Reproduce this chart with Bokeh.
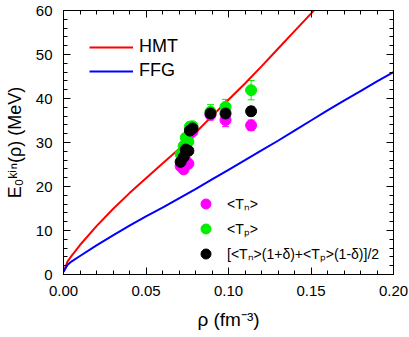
from bokeh.plotting import figure
from bokeh.models import (Range1d, FixedTicker, LinearAxis, Legend, LegendItem,
                          Whisker, TeeHead, ColumnDataSource, NumeralTickFormatter)
from bokeh.embed import file_html
from bokeh.resources import INLINE

# ---------------- data ----------------
rho_hmt = [0.0, 0.0025, 0.005, 0.01, 0.02, 0.03, 0.04, 0.05, 0.06, 0.07, 0.08,
           0.09, 0.10, 0.11, 0.12, 0.13, 0.14, 0.15, 0.16]
e_hmt = [0.6, 3.0, 4.3, 6.7, 11.0, 14.9, 18.5, 21.9, 25.2, 28.5, 32.2,
         36.0, 39.7, 43.4, 47.3, 51.3, 55.3, 59.3, 63.4]

rho_ffg = [0.0, 0.0025, 0.005, 0.01, 0.02, 0.03, 0.04, 0.05, 0.06, 0.07, 0.08,
           0.09, 0.10, 0.11, 0.12, 0.13, 0.14, 0.15, 0.16, 0.17, 0.18, 0.19, 0.20]
e_ffg = [0.6, 2.2, 3.0, 4.2, 6.6, 8.9, 11.1, 13.2, 15.2, 17.3, 19.4,
         21.6, 23.8, 26.0, 28.2, 30.4, 32.7, 35.0, 37.3, 39.5, 41.7, 43.9, 46.0]

rho_pts = [0.0710, 0.0728, 0.0741, 0.0757, 0.0766, 0.0782, 0.0891, 0.0982, 0.1137]
tn = [24.6, 23.9, 25.8, 25.2, 32.0, 32.5, 36.3, 35.1, 33.9]
tn_err = [0.8, 0.8, 0.8, 0.8, 0.8, 0.8, 1.2, 1.5, 1.2]
tp = [27.3, 29.2, 31.1, 30.2, 33.6, 33.7, 37.0, 38.1, 41.9]
tp_err = [0.9, 0.9, 0.9, 0.9, 1.0, 1.0, 1.6, 1.7, 2.2]
tavg = [25.6, 26.7, 28.4, 28.1, 32.7, 33.2, 36.6, 36.6, 37.1]
tavg_err = [0.6, 0.6, 0.6, 0.6, 0.7, 0.7, 1.0, 1.0, 1.0]

x_major = [0.0, 0.05, 0.10, 0.15, 0.20]
x_minor = [0.0, 0.01, 0.02, 0.03, 0.04, 0.05, 0.06, 0.07, 0.08, 0.09, 0.10,
           0.11, 0.12, 0.13, 0.14, 0.15, 0.16, 0.17, 0.18, 0.19, 0.20]
y_major = [0, 10, 20, 30, 40, 50, 60]
y_minor = [0, 2, 4, 6, 8, 10, 12, 14, 16, 18, 20, 22, 24, 26, 28, 30, 32, 34, 36,
           38, 40, 42, 44, 46, 48, 50, 52, 54, 56, 58, 60]

x_title = "\u03c1 (fm\u207b\u00b3)"
y_title = "E\u2080\u1d4f\u2071\u207f(\u03c1) (MeV)"
labels_n = "<T\u2099>"
labels_p = "<T\u209a>"
labels_avg = "[<T\u2099>(1+\u03b4)+<T\u209a>(1-\u03b4)]/2"

# ---------------- layout ----------------
W, H = 409, 337
FONT = "Liberation Sans"

p = figure(width=W, height=H, x_range=Range1d(0.0, 0.2), y_range=Range1d(0.0, 60.0),
           output_backend="svg", toolbar_location=None,
           x_axis_location=None, y_axis_location=None,
           min_border_left=63, min_border_right=16, min_border_top=10, min_border_bottom=63)
p.grid.visible = False
p.outline_line_color = "black"
p.outline_line_width = 1
p.background_fill_color = "white"
p.border_fill_color = "white"


def make_axis(major, minor, fmt, show, title_size="19px"):
    ax = LinearAxis(ticker=FixedTicker(ticks=major, minor_ticks=minor))
    ax.formatter = NumeralTickFormatter(format=fmt)
    ax.major_tick_in = 7
    ax.major_tick_out = 0
    ax.minor_tick_in = 4
    ax.minor_tick_out = 0
    ax.axis_line_color = "black"
    ax.major_tick_line_color = "black"
    ax.minor_tick_line_color = "black"
    if show:
        ax.major_label_text_font = FONT
        ax.major_label_text_font_size = "15px"
        ax.major_label_text_color = "black"
        ax.axis_label_text_font = FONT
        ax.axis_label_text_font_size = title_size
        ax.axis_label_text_font_style = "normal"
        ax.axis_label_text_color = "black"
    else:
        ax.major_label_text_font_size = "1px"
        ax.major_label_text_color = None
        ax.major_label_text_alpha = 0
        ax.major_label_standoff = 0
    return ax


ax_b = make_axis(x_major, x_minor, "0.00", True, "19px")
ax_b.major_label_standoff = 11
ax_b.axis_label = x_title
ax_b.axis_label_standoff = 10
ax_l = make_axis(y_major, y_minor, "0", True, "18px")
ax_l.major_label_standoff = 11
ax_l.axis_label = y_title
ax_l.axis_label_standoff = 8
p.add_layout(ax_b, "below")
p.add_layout(ax_l, "left")
p.add_layout(make_axis(x_major, x_minor, "0.00", False), "above")
p.add_layout(make_axis(y_major, y_minor, "0", False), "right")

# ---------------- curves ----------------
r_hmt = p.line(rho_hmt, e_hmt, line_color="#ff0000", line_width=2)
r_ffg = p.line(rho_ffg, e_ffg, line_color="#0000ff", line_width=2)

# ---------------- points with error bars ----------------
series = [(tn, tn_err, "#ff00ff"), (tp, tp_err, "#00ee00"), (tavg, tavg_err, "black")]
for vals, errs, col in series:
    src = ColumnDataSource(dict(x=rho_pts,
                                lo=[v - e for v, e in zip(vals, errs)],
                                hi=[v + e for v, e in zip(vals, errs)]))
    w = Whisker(base="x", lower="lo", upper="hi", source=src, dimension="height",
                line_color=col, line_width=1, level="underlay",
                upper_head=TeeHead(size=7, line_color=col, line_width=1),
                lower_head=TeeHead(size=7, line_color=col, line_width=1))
    p.add_layout(w)
scat = []
for vals, errs, col in series:
    scat.append(p.scatter(rho_pts, vals, size=11, fill_color=col, line_color=col))

# ---------------- legends ----------------
leg1 = Legend(items=[LegendItem(label="HMT", renderers=[r_hmt]),
                     LegendItem(label="FFG", renderers=[r_ffg])],
              location=(26, 193), padding=0, margin=0, spacing=3,
              glyph_width=44, glyph_height=20, label_height=20, label_standoff=6,
              label_text_font=FONT, label_text_font_size="18px", label_text_color="black",
              background_fill_alpha=0, border_line_color=None)
p.add_layout(leg1)

leg2 = Legend(items=[LegendItem(label=labels_n, renderers=[scat[0]]),
                     LegendItem(label=labels_p, renderers=[scat[1]]),
                     LegendItem(label=labels_avg, renderers=[scat[2]])],
              location=(130, 8), padding=0, margin=0, spacing=-1,
              glyph_width=25, glyph_height=25, label_height=20, label_standoff=9,
              label_text_font=FONT, label_text_font_size="14px", label_text_color="black",
              background_fill_alpha=0, border_line_color=None)
p.add_layout(leg2)

open("out.html", "w").write(file_html(p, INLINE))
